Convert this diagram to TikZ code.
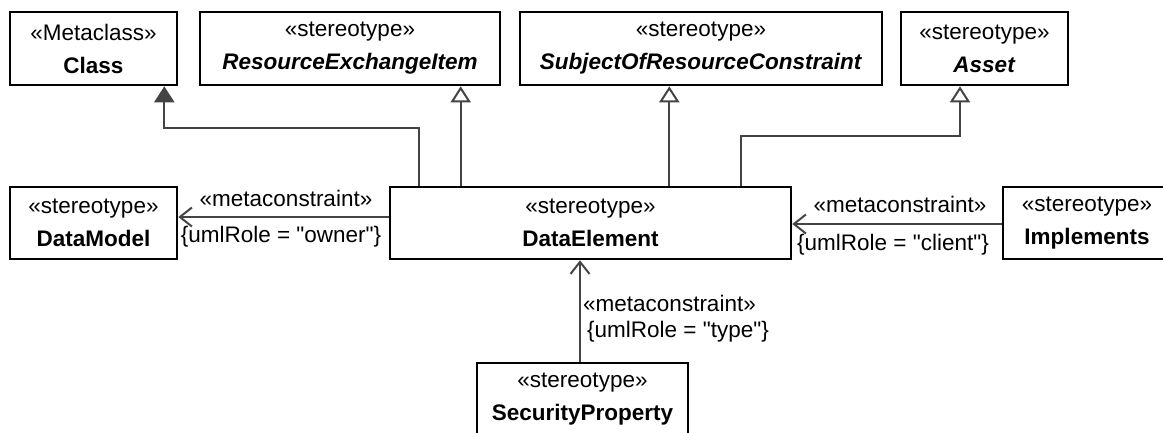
\documentclass[tikz,border=0pt]{standalone}
\usepackage{fontspec}
\setmainfont{Liberation Sans}[Ligatures=TeXOff]
\usetikzlibrary{arrows.meta}
\definecolor{conn}{HTML}{444444}
\tikzset{
  box/.style={draw=black, line width=2.6pt, fill=white, inner sep=0pt, align=center,
    minimum height=73pt, font=\fontsize{22.5}{33}\selectfont},
  lbl/.style={inner sep=0pt, font=\fontsize{22.5}{27}\selectfont},
  conline/.style={draw=conn, line width=2.2pt},
  gen/.style={conline, -{Triangle[open, length=16pt, width=20pt, fill=white, line width=2pt]}},
  genfill/.style={conline, -{Triangle[length=16pt, width=20pt]}},
  meta/.style={conline, -{Straight Barb[length=12pt, width=19pt, line width=2pt]}},
}
\begin{document}
\begin{tikzpicture}[x=1pt, y=-1pt]
\useasboundingbox (0,0) rectangle (1163,432);
\begin{scope}
\clip (0,0) rectangle (1163,432);
% top row
\node[box, minimum width=167pt] (cls) at (93.5,48.5) {«Metaclass»\\\textbf{Class}};
\node[box, minimum width=300pt] (rei) at (350,48.5) {«stereotype»\\\textbf{\textit{ResourceExchangeItem}}};
\node[box, minimum width=362pt] (sorc) at (701,48.5) {«stereotype»\\\textbf{\textit{SubjectOfResourceConstraint}}};
\node[box, minimum width=167pt] (asset) at (984.5,48.5) {«stereotype»\\\textbf{\textit{Asset}}};
% middle row
\node[box, minimum width=167pt, minimum height=72pt] (dm) at (93.5,223) {«stereotype»\\\textbf{DataModel}};
\node[box, minimum width=401pt, minimum height=72pt] (de) at (590.5,223) {«stereotype»\\\textbf{DataElement}};
\node[box, minimum width=168pt, minimum height=72pt] (impl) at (1087,223) {«stereotype»\\\textbf{Implements}};
% bottom
\node[box, minimum width=211pt, minimum height=73pt] (sp) at (582.5,399.5) {«stereotype»\\\textbf{SecurityProperty}};
\end{scope}

% generalizations
\coordinate (c1) at ([xshift=30pt]de.north west);
\coordinate (c2) at ([xshift=72pt]de.north west);
\coordinate (c3) at ([xshift=-123pt]de.north east);
\coordinate (c4) at ([xshift=-51pt]de.north east);
\draw[genfill] (c1) -- ++(0,-58) -| ([xshift=-14pt]cls.south east);
\draw[gen] (c2) -- (c2 |- rei.south);
\draw[gen] (c3) -- (c3 |- sorc.south);
\draw[gen] (c4) -- ++(0,-50) -| ([xshift=-24.5pt]asset.south);

% metaconstraints
\coordinate (d1) at ([yshift=6pt]de.west);
\draw[meta] (d1) -- (d1 -| dm.east);
\coordinate (d2) at ([yshift=-1pt]impl.west);
\draw[meta] (d2) -- (d2 -| de.east);
\coordinate (d3) at ([xshift=-2.5pt]sp.north);
\draw[meta] (d3) -- (d3 |- de.south);

% labels
\node[lbl] (m1) at (286,198) {«metaconstraint»};
\node[lbl] (r1) at (281,237) {\{umlRole = "owner"\}};
\node[lbl] (m2) at (900,204) {«metaconstraint»};
\node[lbl] (r2) at (893,245) {\{umlRole = "client"\}};
\node[lbl, anchor=west] (m3) at (583,303) {«metaconstraint»};
\node[lbl, anchor=west] (r3) at (587,332) {\{umlRole = "type"\}};
\end{tikzpicture}
\end{document}
